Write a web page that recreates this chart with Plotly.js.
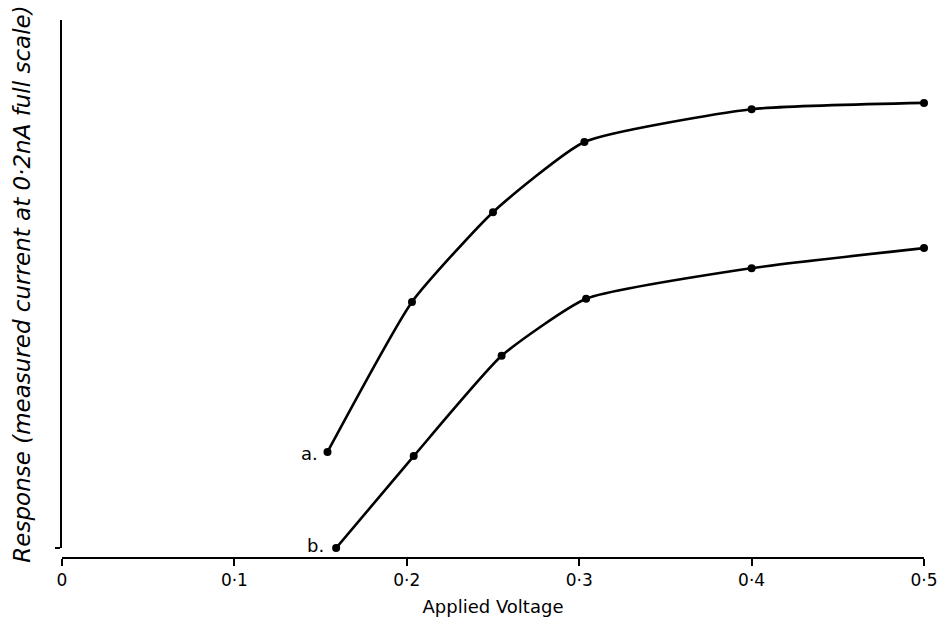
<!DOCTYPE html>
<html><head><meta charset="utf-8">
<script src="https://cdn.plot.ly/plotly-3.0.1.min.js"></script>
<style>html,body{margin:0;padding:0;background:#fff}#chart{width:941px;height:637px}</style>
</head><body><div id="chart"></div>
<script>
var voltageA = [0.154, 0.203, 0.250, 0.303, 0.400, 0.500];
var responseA = [18.2, 46.6, 63.6, 76.9, 83.1, 84.3];
var voltageB = [0.159, 0.204, 0.255, 0.304, 0.400, 0.500];
var responseB = [0.0, 17.4, 36.4, 47.2, 53.0, 56.8];
var tickVals = [0, 0.1, 0.2, 0.3, 0.4, 0.5];
var tickText = ['0', '0·1', '0·2', '0·3', '0·4', '0·5'];
var seriesLabels = ['a.', 'b.'];

var fontFam = '"DejaVu Sans", sans-serif';
var lineStyle = {color: '#000', width: 2.6, shape: 'spline', smoothing: 0.5};
var markerStyle = {color: '#000', size: 8};

var traces = [
  {x: voltageA, y: responseA, mode: 'lines+markers', line: lineStyle, marker: markerStyle, hoverinfo: 'skip', cliponaxis: false},
  {x: voltageB, y: responseB, mode: 'lines+markers', line: lineStyle, marker: markerStyle, hoverinfo: 'skip', cliponaxis: false}
];

var layout = {
  width: 941, height: 637,
  margin: {l: 62, r: 17, t: 20, b: 79},
  paper_bgcolor: '#fff', plot_bgcolor: '#fff',
  showlegend: false,
  font: {family: fontFam, color: '#000'},
  xaxis: {
    range: [0, 0.5], tickvals: tickVals, ticktext: tickText,
    showline: true, linecolor: '#000', linewidth: 2,
    ticks: 'outside', ticklen: 7, tickwidth: 2, tickcolor: '#000',
    showgrid: false, zeroline: false,
    anchor: 'free', position: 0,
    tickfont: {size: 17, family: fontFam},
    title: {text: 'Applied Voltage', font: {size: 18, family: fontFam}, standoff: 10}
  },
  yaxis: {
    range: [0, 100], domain: [0.0186, 1],
    showline: true, linecolor: '#000', linewidth: 2,
    tickvals: [0], ticks: 'outside', ticklen: 5, tickwidth: 2, tickcolor: '#000',
    showticklabels: false, showgrid: false, zeroline: false,
    title: {text: '<i>Response (measured current at 0·2nA full scale)</i>', font: {size: 23, family: fontFam}, standoff: 18}
  },
  annotations: [
    {x: voltageA[0], y: responseA[0], text: seriesLabels[0], showarrow: false, xanchor: 'right', xshift: -8, yshift: -2, font: {size: 18, family: fontFam}},
    {x: voltageB[0], y: responseB[0], text: seriesLabels[1], showarrow: false, xanchor: 'right', xshift: -10, yshift: 2, font: {size: 18, family: fontFam}}
  ]
};

Plotly.newPlot('chart', traces, layout, {staticPlot: true, displayModeBar: false});
</script>
</body></html>
